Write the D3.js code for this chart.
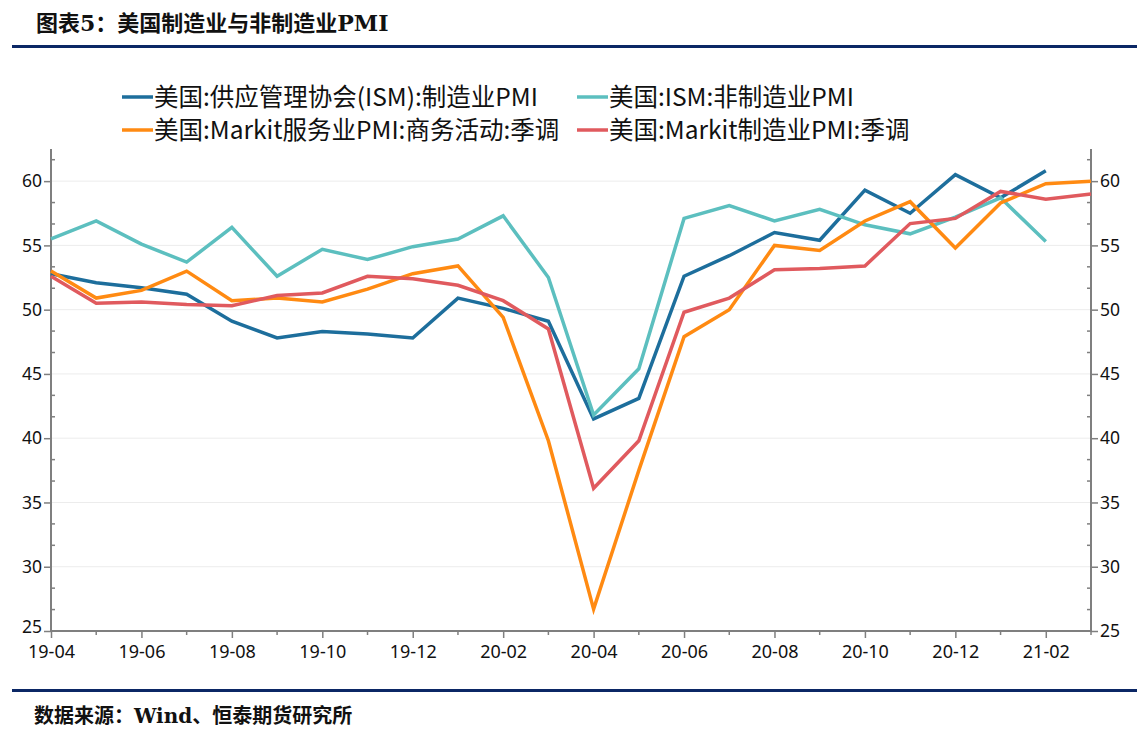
<!DOCTYPE html>
<html><head><meta charset="utf-8">
<script src="https://cdn.jsdelivr.net/npm/d3@7"></script>
<style>
body{margin:0;background:#fff;}
svg{display:block;}
</style></head>
<body>
<svg id="c" width="1137" height="736"></svg>
<script>
const months = ["19-04","19-05","19-06","19-07","19-08","19-09","19-10","19-11","19-12","20-01","20-02","20-03","20-04","20-05","20-06","20-07","20-08","20-09","20-10","20-11","20-12","21-01","21-02","21-03"];
const ismMfg = [52.8,52.1,51.7,51.2,49.1,47.8,48.3,48.1,47.8,50.9,50.1,49.1,41.5,43.1,52.6,54.2,56.0,55.4,59.3,57.5,60.5,58.7,60.8,null];
const ismNonMfg = [55.5,56.9,55.1,53.7,56.4,52.6,54.7,53.9,54.9,55.5,57.3,52.5,41.8,45.4,57.1,58.1,56.9,57.8,56.6,55.9,57.2,58.7,55.3,null];
const markitSvc = [53.0,50.9,51.5,53.0,50.7,50.9,50.6,51.6,52.8,53.4,49.4,39.8,26.7,37.5,47.9,50.0,55.0,54.6,56.9,58.4,54.8,58.3,59.8,60.0];
const markitMfg = [52.6,50.5,50.6,50.4,50.3,51.1,51.3,52.6,52.4,51.9,50.7,48.5,36.1,39.8,49.8,50.9,53.1,53.2,53.4,56.7,57.1,59.2,58.6,59.0];
const seriesNames = ["美国:供应管理协会(ISM):制造业PMI","美国:ISM:非制造业PMI","美国:Markit服务业PMI:商务活动:季调","美国:Markit制造业PMI:季调"];
const seriesColors = ["#1d6e9c","#5cbfbf","#ff8a12","#e05a5e"];
const yTicks = [25,30,35,40,45,50,55,60];
const title = "图表5：美国制造业与非制造业PMI";
const source = "数据来源：Wind、恒泰期货研究所";

const svg = d3.select("#c");
const L = 51, R = 1091, T = 149, B = 631;
const x = d3.scaleLinear().domain([0, months.length-1]).range([L, R]);
const y = d3.scaleLinear().domain([25, 62.5]).range([B, T]);

// title & rules
svg.append("text").attr("x",36).attr("y",31).attr("font-family","'DejaVu Serif','Noto Sans CJK SC',serif")
  .attr("font-weight","bold").attr("font-size",22).attr("fill","#111").text(title);
svg.append("rect").attr("x",12).attr("y",45).attr("width",1125).attr("height",3).attr("fill","#0b2765");
svg.append("rect").attr("x",12).attr("y",689).attr("width",1125).attr("height",3).attr("fill","#0b2765");
svg.append("text").attr("x",34).attr("y",723).attr("font-family","'DejaVu Serif','Noto Sans CJK SC',serif")
  .attr("font-weight","bold").attr("font-size",20).attr("fill","#111").text(source);

// grid
svg.append("g").selectAll("line").data(yTicks.filter(d=>d>25)).join("line")
  .attr("x1",L).attr("x2",R).attr("y1",d=>y(d)).attr("y2",d=>y(d))
  .attr("stroke","#ececec").attr("stroke-width",1);

const axisColor = "#7f7f7f";
const fontAx = "'Noto Sans','DejaVu Sans',sans-serif";
// minor y ticks
const minorY = d3.range(25, 62.5, 5/3).filter(v => Math.abs((v-25)/5 - Math.round((v-25)/5))>0.01);
// left axis
const gl = svg.append("g").attr("transform",`translate(${L},0)`);
gl.call(d3.axisLeft(y).tickValues(yTicks).tickSize(7).tickPadding(2).tickSizeOuter(0));
gl.selectAll("line").attr("stroke",axisColor).attr("stroke-width",1.5);
gl.select(".domain").attr("stroke",axisColor).attr("stroke-width",2).attr("d",`M0,${T}V${B}`);
gl.selectAll("text").attr("font-family",fontAx).attr("font-size",17.5).attr("fill","#111");
gl.selectAll(".tick text").filter(d=>d===25).attr("dy","0.1em");
gl.selectAll(".minor").data(minorY).join("line").attr("class","minor")
  .attr("x1",0).attr("x2",4).attr("y1",d=>y(d)).attr("y2",d=>y(d)).attr("stroke",axisColor).attr("stroke-width",1.5);
// right axis
const gr = svg.append("g").attr("transform",`translate(${R},0)`);
gr.call(d3.axisRight(y).tickValues(yTicks).tickSize(7).tickPadding(2).tickSizeOuter(0));
gr.selectAll("line").attr("stroke",axisColor).attr("stroke-width",1.5);
gr.select(".domain").attr("stroke",axisColor).attr("stroke-width",2).attr("d",`M0,${T}V${B}`);
gr.selectAll("text").attr("font-family",fontAx).attr("font-size",17.5).attr("fill","#111");
gr.selectAll(".minor").data(minorY).join("line").attr("class","minor")
  .attr("x1",0).attr("x2",-4).attr("y1",d=>y(d)).attr("y2",d=>y(d)).attr("stroke",axisColor).attr("stroke-width",1.5);
// x axis
const gx = svg.append("g").attr("transform",`translate(0,${B})`);
gx.call(d3.axisBottom(x).tickValues(d3.range(0, months.length, 2)).tickFormat(i=>months[i]).tickSize(7).tickPadding(7).tickSizeOuter(0));
gx.selectAll("line").attr("stroke",axisColor).attr("stroke-width",1.5);
gx.select(".domain").attr("stroke",axisColor).attr("stroke-width",2).attr("d",`M${L},0H${R}`);
gx.selectAll("text").attr("font-family",fontAx).attr("font-size",18).attr("fill","#111");
gx.selectAll(".minor").data(d3.range(1, months.length, 2)).join("line").attr("class","minor")
  .attr("x1",d=>x(d)).attr("x2",d=>x(d)).attr("y1",0).attr("y2",4).attr("stroke",axisColor).attr("stroke-width",1.5);

// lines
const allSeries = [ismMfg, ismNonMfg, markitSvc, markitMfg];
const line = d3.line().defined(d=>d!=null).x((d,i)=>x(i)).y(d=>y(d));
allSeries.forEach((s,k)=>{
  svg.append("path").datum(s).attr("d",line).attr("fill","none")
    .attr("stroke",seriesColors[k]).attr("stroke-width",3.5).attr("stroke-linejoin","miter");
});

// legend
const legPos = [[122,97],[577,97],[122,130],[577,130]];
seriesNames.forEach((n,k)=>{
  const g = svg.append("g").attr("transform",`translate(${legPos[k][0]},${legPos[k][1]})`);
  g.append("line").attr("x1",0).attr("x2",31).attr("y1",0).attr("y2",0).attr("stroke",seriesColors[k]).attr("stroke-width",3.5);
  g.append("text").attr("x",32).attr("y",8.5).attr("font-family","'Noto Sans CJK SC',sans-serif")
    .attr("font-size",24.5).attr("fill","#111").text(n);
});
</script>
</body></html>
